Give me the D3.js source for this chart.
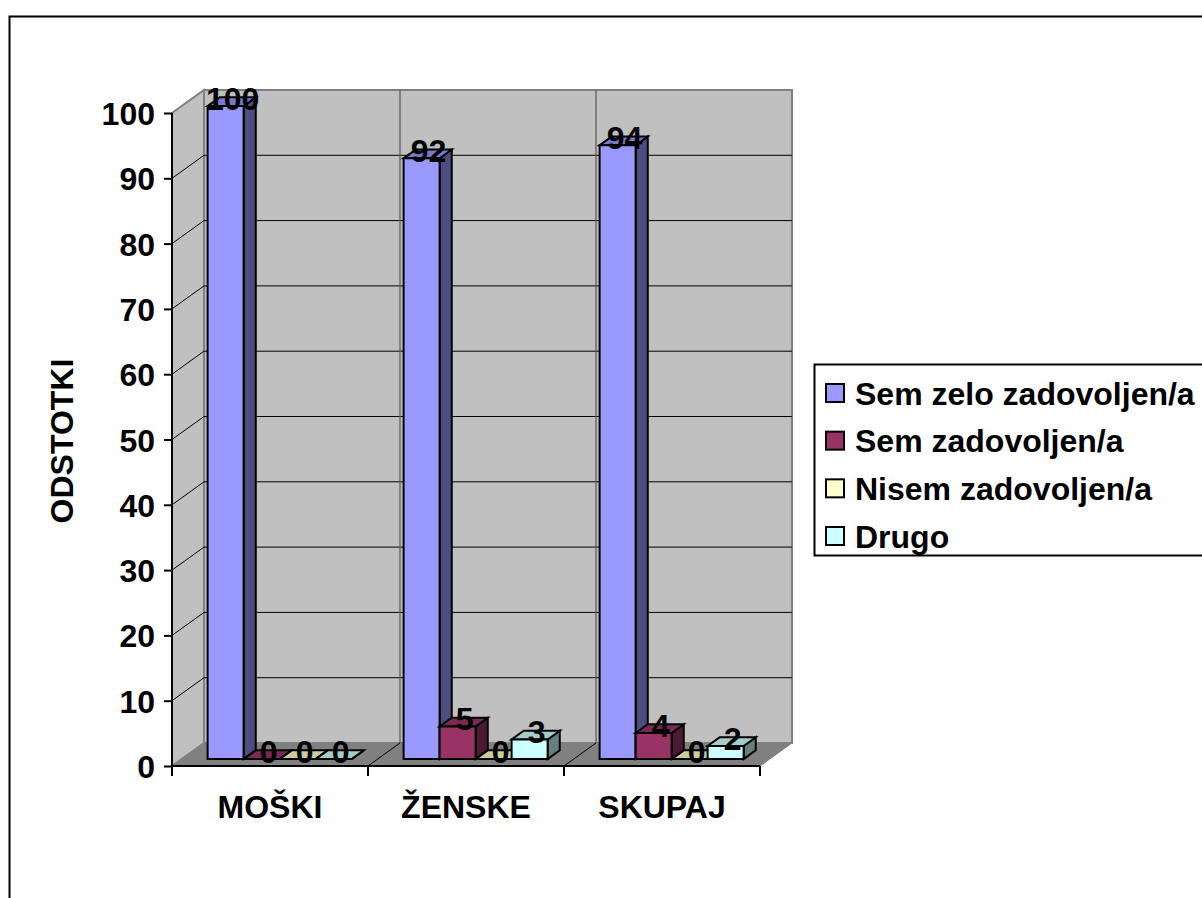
<!DOCTYPE html>
<html><head><meta charset="utf-8">
<script src="https://cdn.jsdelivr.net/npm/d3@7"></script>
<style>html,body{margin:0;padding:0;background:#fff;overflow:hidden}text{font-family:"Liberation Sans",Arial,sans-serif;font-weight:bold;fill:#000}</style>
</head><body><svg id="c" width="1202" height="898"></svg>
<script>
const categories = ["MOŠKI","ŽENSKE","SKUPAJ"];
const seriesNames = ["Sem zelo zadovoljen/a","Sem zadovoljen/a","Nisem zadovoljen/a","Drugo"];
const seriesFront = ["#9999ff","#993366","#ffffcc","#ccffff"];
const seriesTop = ["#7a7acc","#7a2952","#cccca3","#a3cccc"];
const seriesSide = ["#4d4d80","#4d1a33","#808066","#668080"];
const zelo = [100,92,94];
const zadovoljen = [0,5,4];
const nisem = [0,0,0];
const drugo = [0,3,2];
const yTicks = [0,10,20,30,40,50,60,70,80,90,100];
const allSeries = [zelo,zadovoljen,nisem,drugo];

const svg = d3.select("#c");
const x = d3.scaleBand().domain(categories).range([172,760]);
const y = d3.scaleLinear().domain([0,100]).range([766,113]);
const inner = d3.scaleBand().domain(d3.range(4)).range([26,170]);
const depthX = 32, depthY = -23;
const barZ0 = 0.3, barZ1 = 0.68;
const P = (px,py,z)=>[px+depthX*z, py+depthY*z];
const poly = (pts,fill,stroke,w)=>svg.append("polygon").attr("points",pts.map(p=>p.join(",")).join(" ")).attr("fill",fill).attr("stroke",stroke).attr("stroke-width",w).attr("stroke-linejoin","miter");
const seg = (a,b,stroke,w)=>svg.append("line").attr("x1",a[0]).attr("y1",a[1]).attr("x2",b[0]).attr("y2",b[1]).attr("stroke",stroke).attr("stroke-width",w);

// outer frame
svg.append("rect").attr("x",9.5).attr("y",16.5).attr("width",1300).attr("height",1000).attr("fill","#fff").attr("stroke","#000").attr("stroke-width",2);

const [xl,xr] = x.range();
// walls
poly([P(xl,y(0),0),P(xl,y(100),0),P(xl,y(100),1),P(xl,y(0),1)],"#c0c0c0","#808080",2);
poly([P(xl,y(0),1),P(xl,y(100),1),P(xr,y(100),1),P(xr,y(0),1)],"#c0c0c0","#808080",2);
poly([P(xl,y(0),0),P(xl,y(0),1),P(xr,y(0),1),P(xr,y(0),0)],"#808080","#808080",1);

// gridlines
yTicks.slice(1,-1).forEach(t=>{
  seg(P(xl,y(t),0),P(xl,y(t),1),"#000",1);
  seg(P(xl,y(t),1),P(xr,y(t),1),"#000",1);
});
// vertical category gridlines on back wall + floor
categories.slice(1).forEach(c=>{
  seg(P(x(c),y(0),1),P(x(c),y(100),1),"#555",1.2);
  seg(P(x(c),y(0),0),P(x(c),y(0),1),"#000",1);
});

// axes
const axisY = d3.axisLeft(y).tickValues(yTicks).tickSize(8).tickPadding(6);
const gy = svg.append("g").attr("transform",`translate(${xl},0)`).call(axisY);
gy.selectAll("path,line").attr("stroke","#000").attr("stroke-width",2);
gy.select("path").attr("d",`M0,${y(100)}V${y(0)}`);
gy.selectAll("text").style("font-size","32px").attr("font-family",null).attr("x",-17).attr("dy","0.36em");
const axisX = d3.axisBottom(x).tickSize(0).tickPadding(29);
const gx = svg.append("g").attr("transform",`translate(0,${y(0)})`).call(axisX);
gx.select("path").attr("d",`M${xl},0H${xr}`).attr("stroke","#000").attr("stroke-width",2);
gx.selectAll("text").style("font-size","32px").attr("font-family",null).attr("dy","0.71em");
[...categories.map(c=>x(c)),xr].forEach(v=>seg([v,y(0)],[v,y(0)+10],"#000",2));

svg.append("text").attr("transform","translate(73,441) rotate(-90)").attr("text-anchor","middle").style("font-size","32px").text("ODSTOTKI");

// bars
const labels=[];
categories.forEach((c,ci)=>{
  allSeries.forEach((vals,si)=>{
    const v = vals[ci];
    const x0 = x(c)+inner(si), x1 = x0+inner.bandwidth();
    const yB = y(0), yT = y(v);
    const a=P(x0,yB,barZ0), b=P(x1,yB,barZ0), c2=P(x1,yT,barZ0), d=P(x0,yT,barZ0);
    const e=P(x1,yB,barZ1), f=P(x1,yT,barZ1), g=P(x0,yT,barZ1);
    poly([b,e,f,c2],seriesSide[si],"#000",2);
    poly([d,c2,f,g],seriesTop[si],"#000",2);
    poly([a,b,c2,d],seriesFront[si],"#000",2);
    labels.push({t:v,x:(a[0]+b[0])/2+7,y:d[1]-8});
  });
});
labels.forEach(l=>svg.append("text").attr("x",l.x).attr("y",l.y).attr("text-anchor","middle").attr("dy","0.36em").style("font-size","32px").text(l.t));

// legend
const lg = svg.append("g");
lg.append("rect").attr("x",814.5).attr("y",364.5).attr("width",420).attr("height",191).attr("fill","#fff").attr("stroke","#000").attr("stroke-width",2);
const ly = d3.scalePoint().domain(seriesNames).range([393,536]);
seriesNames.forEach((n,i)=>{
  lg.append("rect").attr("x",826).attr("y",ly(n)-9).attr("width",18).attr("height",18).attr("fill",seriesFront[i]).attr("stroke","#000").attr("stroke-width",2);
  lg.append("text").attr("x",855).attr("y",ly(n)).attr("dy","0.36em").style("font-size","32px").text(n);
});
</script></body></html>
